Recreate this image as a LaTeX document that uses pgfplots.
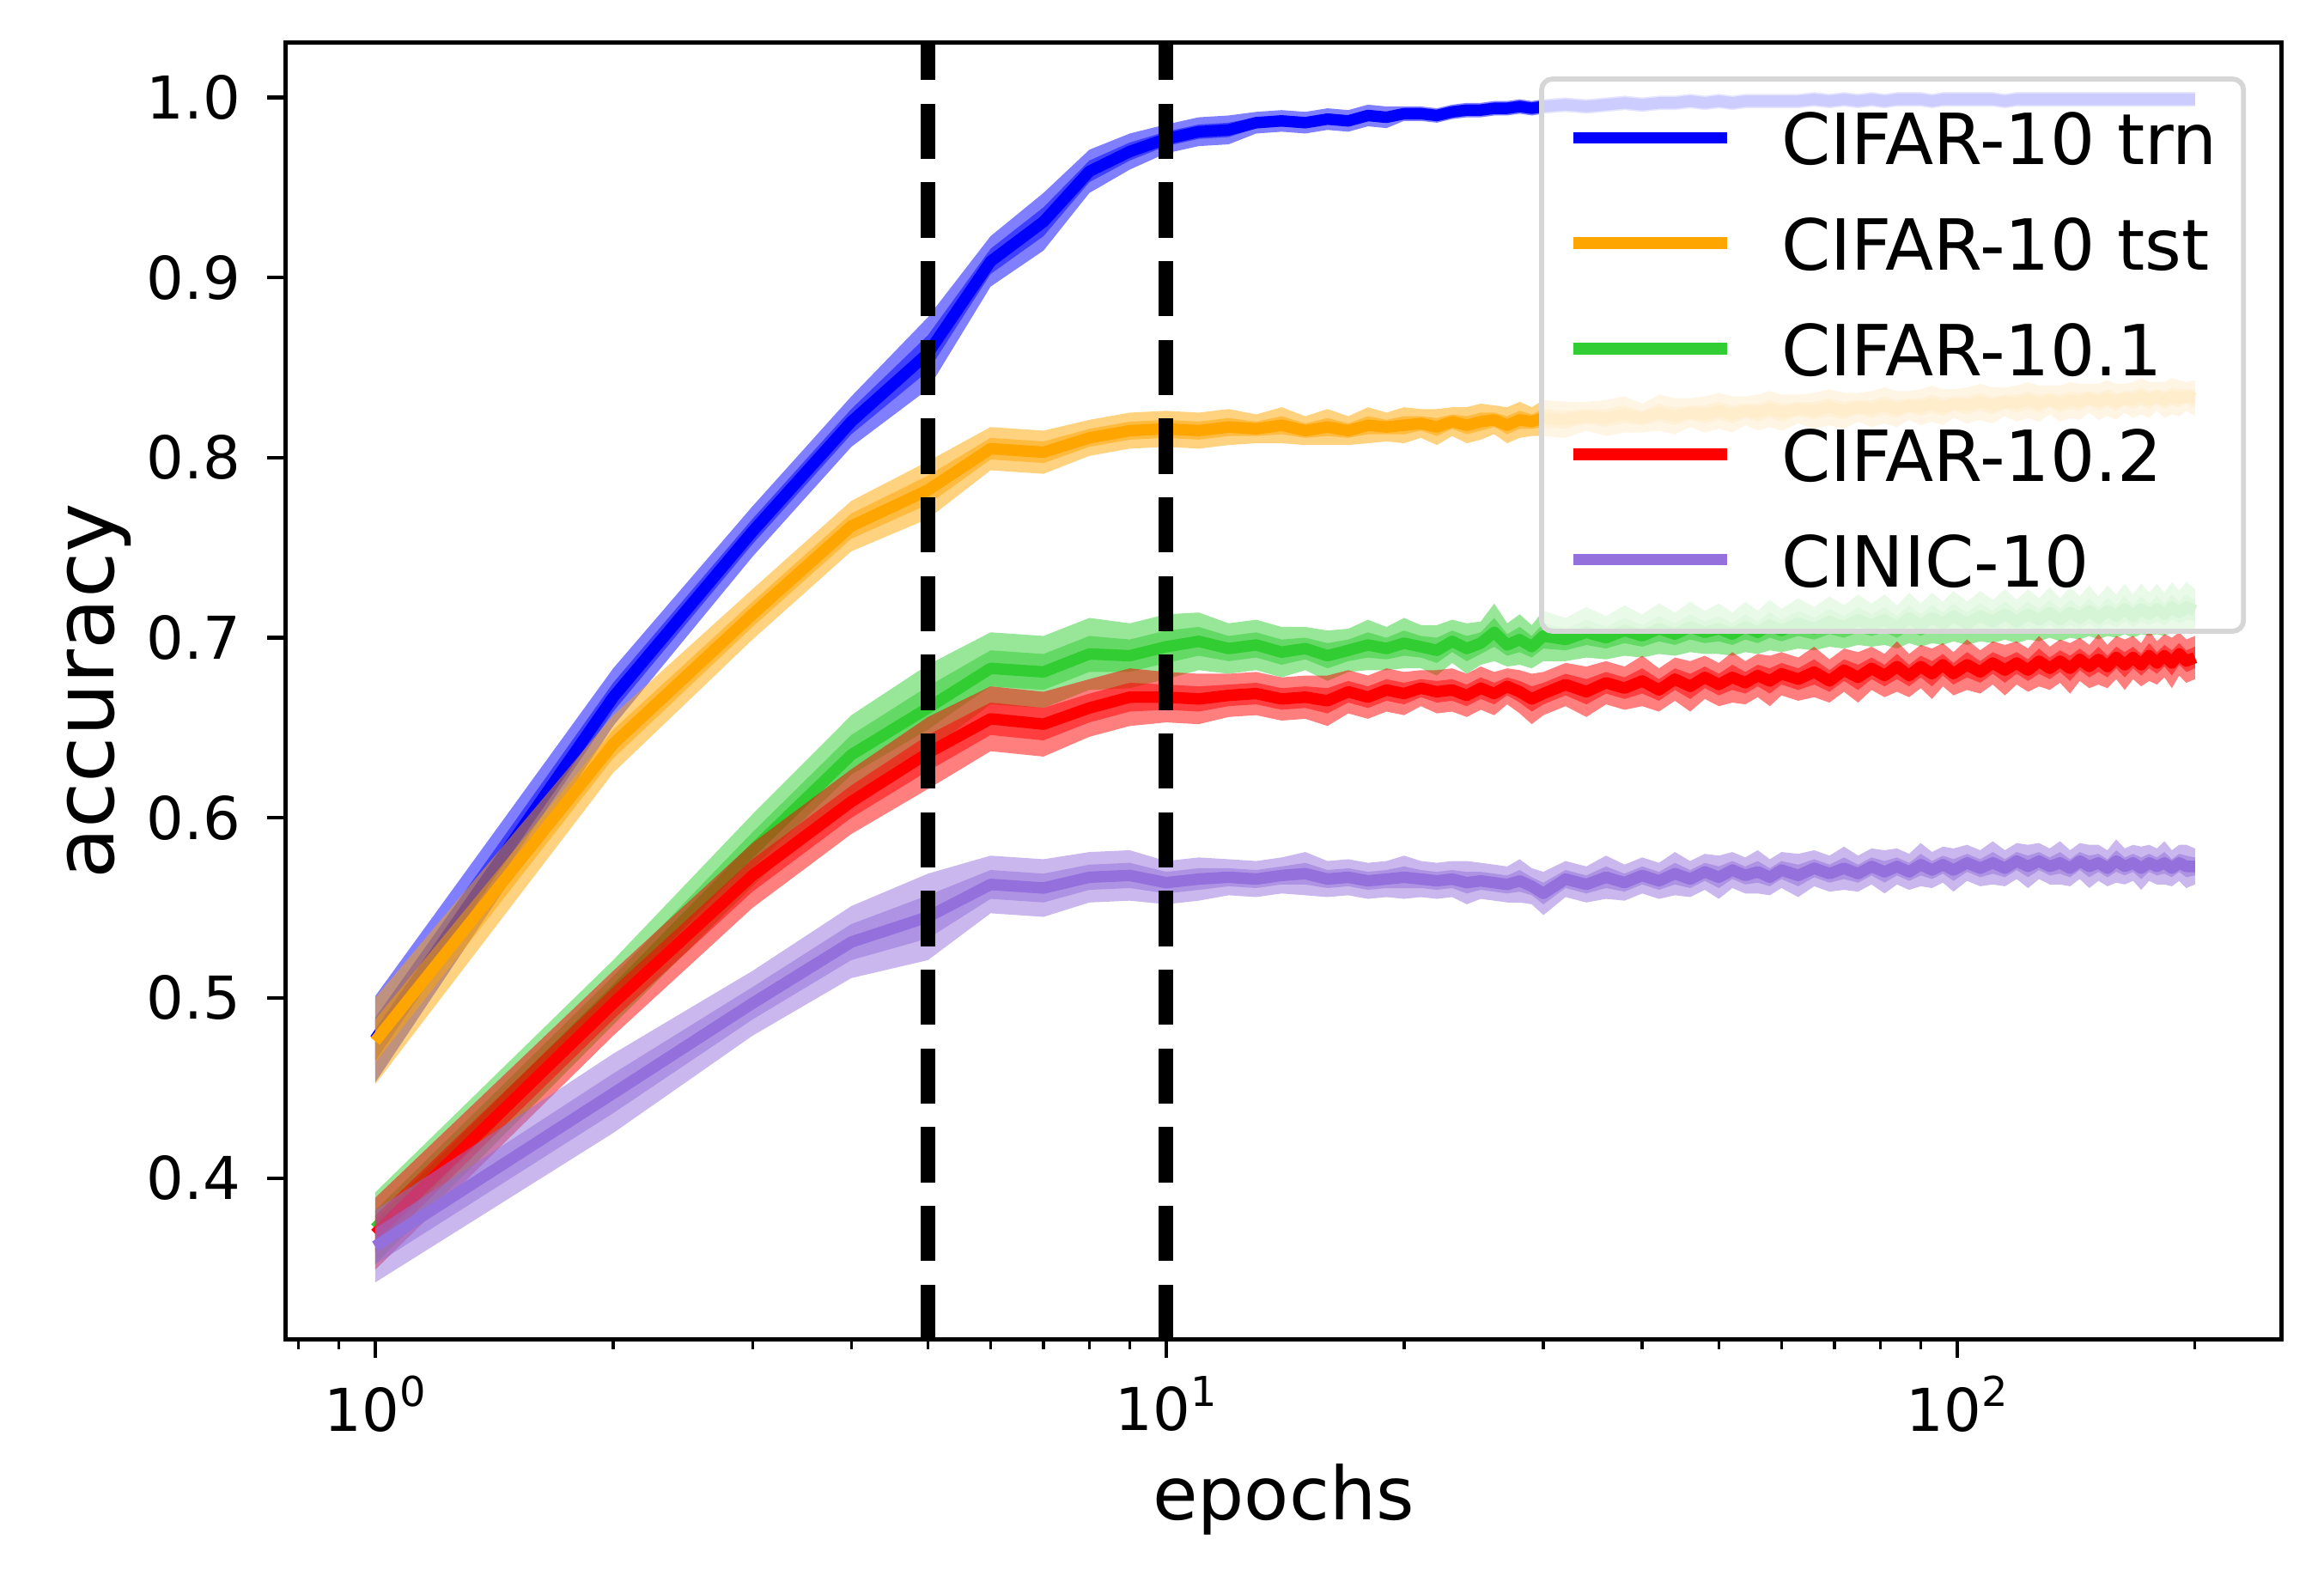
\documentclass[border=0pt]{standalone}
\usepackage{fontspec}
\setmainfont{DejaVu Sans}
\usepackage{pgfplots}
\usepackage{pgfplotstable}
\pgfplotsset{compat=1.18}

\definecolor{cblue}{RGB}{0,0,255}
\definecolor{corange}{RGB}{255,165,0}
\definecolor{cgreen}{RGB}{50,205,50}
\definecolor{cred}{RGB}{255,0,0}
\definecolor{cpurple}{RGB}{147,112,219}

\pgfplotstableread{
x b bs o os g gs r rs p ps
1 0.477 0.012 0.476 0.012 0.372 0.010 0.369 0.010 0.362 0.010
2 0.667 0.008 0.641 0.008 0.503 0.009 0.497 0.009 0.447 0.011
3 0.759 0.007 0.713 0.007 0.582 0.010 0.568 0.009 0.497 0.009
4 0.820 0.007 0.762 0.007 0.635 0.011 0.609 0.009 0.531 0.010
5 0.858 0.010 0.782 0.008 0.661 0.012 0.636 0.010 0.545 0.012
6 0.909 0.007 0.805 0.006 0.683 0.010 0.655 0.009 0.563 0.008
7 0.931 0.008 0.803 0.006 0.681 0.010 0.652 0.009 0.561 0.008
8 0.959 0.006 0.811 0.005 0.691 0.010 0.661 0.008 0.567 0.007
9 0.970 0.005 0.815 0.005 0.690 0.009 0.667 0.008 0.568 0.007
10 0.977 0.004 0.816 0.005 0.695 0.009 0.667 0.007 0.564 0.006
11 0.981 0.004 0.815 0.005 0.698 0.008 0.666 0.007 0.566 0.006
12 0.982 0.004 0.817 0.005 0.694 0.007 0.668 0.006 0.567 0.005
13 0.986 0.003 0.816 0.004 0.696 0.007 0.669 0.006 0.566 0.005
14 0.987 0.003 0.818 0.005 0.692 0.007 0.666 0.006 0.568 0.005
15 0.986 0.003 0.815 0.004 0.694 0.006 0.667 0.006 0.569 0.006
16 0.988 0.003 0.817 0.005 0.690 0.007 0.665 0.007 0.566 0.005
17 0.987 0.003 0.815 0.004 0.693 0.006 0.670 0.006 0.567 0.005
18 0.990 0.003 0.818 0.005 0.696 0.007 0.667 0.006 0.565 0.005
19 0.989 0.003 0.817 0.004 0.694 0.006 0.671 0.006 0.566 0.005
20 0.991 0.002 0.818 0.005 0.697 0.007 0.669 0.006 0.567 0.006
21 0.991 0.002 0.819 0.004 0.695 0.006 0.672 0.005 0.566 0.005
22 0.990 0.002 0.817 0.005 0.693 0.007 0.670 0.006 0.565 0.005
23 0.992 0.002 0.820 0.004 0.698 0.006 0.671 0.006 0.566 0.005
24 0.993 0.002 0.818 0.005 0.694 0.007 0.668 0.006 0.564 0.006
25 0.993 0.002 0.820 0.005 0.697 0.006 0.672 0.006 0.565 0.005
26 0.994 0.002 0.821 0.004 0.703 0.008 0.669 0.006 0.564 0.005
27 0.994 0.002 0.818 0.005 0.696 0.006 0.673 0.005 0.563 0.005
28 0.995 0.002 0.821 0.005 0.699 0.007 0.670 0.006 0.565 0.006
29 0.994 0.002 0.820 0.004 0.695 0.006 0.666 0.007 0.562 0.005
30 0.995 0.002 0.822 0.005 0.701 0.007 0.669 0.006 0.558 0.006
32 0.996 0.002 0.821 0.005 0.699 0.006 0.674 0.006 0.566 0.005
34 0.995 0.002 0.823 0.004 0.703 0.007 0.670 0.007 0.563 0.005
36 0.996 0.002 0.822 0.005 0.700 0.006 0.675 0.006 0.567 0.006
38 0.997 0.002 0.824 0.005 0.704 0.007 0.672 0.006 0.564 0.005
40 0.996 0.002 0.822 0.004 0.701 0.006 0.676 0.007 0.568 0.005
42 0.997 0.002 0.825 0.005 0.705 0.007 0.671 0.006 0.565 0.005
44 0.997 0.002 0.823 0.005 0.702 0.006 0.677 0.006 0.569 0.006
46 0.998 0.002 0.825 0.004 0.706 0.007 0.673 0.007 0.566 0.005
48 0.997 0.002 0.824 0.005 0.703 0.006 0.678 0.006 0.570 0.005
50 0.998 0.002 0.826 0.005 0.705 0.007 0.674 0.006 0.567 0.006
52 0.997 0.002 0.824 0.005 0.702 0.006 0.678 0.007 0.571 0.005
54 0.998 0.002 0.826 0.004 0.706 0.007 0.675 0.006 0.568 0.005
56 0.998 0.002 0.825 0.005 0.703 0.006 0.679 0.006 0.570 0.006
58 0.998 0.002 0.827 0.005 0.707 0.007 0.676 0.007 0.567 0.005
60 0.998 0.002 0.825 0.005 0.704 0.006 0.680 0.006 0.571 0.005
63 0.998 0.002 0.827 0.004 0.708 0.007 0.677 0.006 0.568 0.006
66 0.999 0.002 0.826 0.005 0.705 0.006 0.681 0.007 0.572 0.005
69 0.998 0.002 0.828 0.005 0.709 0.007 0.676 0.006 0.569 0.005
72 0.999 0.002 0.826 0.005 0.706 0.006 0.682 0.006 0.572 0.006
75 0.998 0.002 0.828 0.004 0.710 0.007 0.678 0.007 0.569 0.005
78 0.999 0.002 0.827 0.005 0.707 0.006 0.683 0.006 0.573 0.005
81 0.998 0.002 0.829 0.005 0.710 0.007 0.679 0.006 0.570 0.006
84 0.999 0.002 0.827 0.005 0.706 0.006 0.684 0.007 0.573 0.005
87 0.999 0.002 0.829 0.004 0.711 0.007 0.679 0.006 0.570 0.005
90 0.999 0.002 0.828 0.005 0.707 0.006 0.684 0.006 0.574 0.006
93 0.998 0.002 0.830 0.005 0.711 0.007 0.680 0.007 0.571 0.005
96 0.999 0.002 0.828 0.005 0.708 0.006 0.685 0.006 0.574 0.005
99 0.999 0.002 0.830 0.004 0.712 0.007 0.680 0.006 0.571 0.006
103 0.999 0.002 0.829 0.005 0.708 0.006 0.685 0.007 0.575 0.005
107 0.999 0.002 0.831 0.005 0.712 0.007 0.681 0.006 0.572 0.005
111 0.999 0.002 0.829 0.005 0.709 0.006 0.686 0.006 0.575 0.006
115 0.998 0.002 0.831 0.004 0.713 0.007 0.682 0.007 0.572 0.005
119 0.999 0.002 0.830 0.005 0.709 0.006 0.686 0.006 0.576 0.005
123 0.999 0.002 0.832 0.005 0.713 0.007 0.682 0.006 0.573 0.006
127 0.999 0.002 0.830 0.005 0.710 0.006 0.687 0.007 0.576 0.005
131 0.999 0.002 0.832 0.004 0.714 0.007 0.683 0.006 0.573 0.005
135 0.999 0.002 0.830 0.005 0.710 0.006 0.687 0.006 0.575 0.006
139 0.999 0.002 0.832 0.005 0.714 0.007 0.683 0.007 0.572 0.005
143 0.999 0.002 0.831 0.005 0.711 0.006 0.688 0.006 0.576 0.005
147 0.999 0.002 0.833 0.004 0.715 0.007 0.684 0.006 0.573 0.006
151 0.999 0.002 0.831 0.005 0.711 0.006 0.688 0.007 0.575 0.005
155 0.999 0.002 0.833 0.005 0.715 0.007 0.684 0.006 0.572 0.005
159 0.999 0.002 0.831 0.005 0.712 0.006 0.689 0.006 0.576 0.006
163 0.999 0.002 0.833 0.004 0.716 0.007 0.685 0.007 0.573 0.005
167 0.999 0.002 0.832 0.005 0.712 0.006 0.689 0.006 0.575 0.005
171 0.999 0.002 0.834 0.005 0.716 0.007 0.685 0.006 0.572 0.006
175 0.999 0.002 0.832 0.005 0.713 0.006 0.690 0.007 0.575 0.005
179 0.999 0.002 0.834 0.004 0.716 0.007 0.686 0.006 0.573 0.005
183 0.999 0.002 0.832 0.005 0.713 0.006 0.690 0.006 0.575 0.006
187 0.999 0.002 0.834 0.005 0.717 0.007 0.686 0.007 0.572 0.005
191 0.999 0.002 0.833 0.005 0.714 0.006 0.691 0.006 0.575 0.005
195 0.999 0.002 0.834 0.004 0.717 0.007 0.687 0.006 0.573 0.006
200 0.999 0.002 0.833 0.005 0.715 0.006 0.689 0.006 0.573 0.005
}\data

% band between mean-k*s and mean+k*s, via stacked plots (stack returns to zero after each band)
\newcommand{\bandk}[4]{%
  \addplot[stack plots=y, draw=none, forget plot] table[x=x, y expr=\thisrow{#2}-#4*\thisrow{#3}]{\data};
  \addplot[stack plots=y, fill=#1, fill opacity=0.5, draw=none, forget plot] table[x=x, y expr=2*#4*\thisrow{#3}]{\data} \closedcycle;
  \addplot[stack plots=y, draw=none, forget plot] table[x=x, y expr=-\thisrow{#2}-#4*\thisrow{#3}]{\data};
}
\newcommand{\band}[3]{\bandk{#1}{#2}{#3}{2}\bandk{#1}{#2}{#3}{1}}
\newcommand{\tenpow}[1]{10\raisebox{6.8pt}{\fontsize{11.5}{12}\selectfont #1}}

\begin{document}
\begin{tikzpicture}
\begin{axis}[
  scale only axis, width=558pt, height=362.4pt,
  xmode=log, log basis x=10,
  xmin=0.7695, xmax=257.5, ymin=0.3102, ymax=1.0303,
  axis line style={line width=1.2pt, black},
  tick align=outside, tick pos=left,
  major tick length=5.1pt, minor tick length=2.7pt,
  tick style={line width=1pt, black},
  minor tick style={line width=0.8pt, black},
  xtick={1,10,100},
  xticklabels={\tenpow{0},\tenpow{1},\tenpow{2}},
  minor xtick={0.8,0.9,2,3,4,5,6,7,8,9,20,30,40,50,60,70,80,90,200},
  ytick={0.4,0.5,0.6,0.7,0.8,0.9,1.0},
  yticklabel style={/pgf/number format/fixed, /pgf/number format/fixed zerofill, /pgf/number format/precision=1, /pgf/number format/assume math mode=true, font=\fontsize{16.5}{18}\selectfont, anchor=east, inner sep=0pt, xshift=-7.2pt},
  xticklabel style={font=\fontsize{16.5}{18}\selectfont, anchor=north, inner sep=0pt, yshift=-4.9pt},
  xlabel={epochs}, ylabel={accuracy},
  xlabel style={at={([yshift=-50.2pt]axis description cs:0.5,0)}, anchor=base, inner sep=0pt, font=\fontsize{20.5}{24}\selectfont},
  ylabel style={at={([xshift=-48pt]axis description cs:0,0.5)}, anchor=base, inner sep=0pt, rotate=0, font=\fontsize{23.3}{27}\selectfont},
  legend cell align=left,
  legend style={at={(1,1)}, anchor=north east, xshift=-10pt, yshift=-9.4pt,
    font=\fontsize{19.7}{23}\selectfont, draw=black!16, line width=1.4pt,
    rounded corners=3pt, fill=white, fill opacity=0.8, text opacity=1, draw opacity=1,
    inner xsep=7.3pt, inner ysep=3.4pt, row sep=0pt, column sep=13.5pt,
    nodes={inner sep=0pt, text height=20.5pt, text depth=9pt}},
  legend image code/.code={\draw[#1, line width=3.2pt, line cap=butt, sharp corners] (0pt,1.8pt) -- (43pt,1.8pt);},
]
\band{cblue}{b}{bs}
\addplot[cblue, line width=3.2pt, line join=round] table[x=x, y=b]{\data};
\addlegendentry{CIFAR-10 trn}
\band{corange}{o}{os}
\addplot[corange, line width=3.2pt, line join=round] table[x=x, y=o]{\data};
\addlegendentry{CIFAR-10 tst}
\band{cgreen}{g}{gs}
\addplot[cgreen, line width=3.2pt, line join=round] table[x=x, y=g]{\data};
\addlegendentry{CIFAR-10.1}
\band{cred}{r}{rs}
\addplot[cred, line width=3.2pt, line join=round] table[x=x, y=r]{\data};
\addlegendentry{CIFAR-10.2}
\band{cpurple}{p}{ps}
\addplot[cpurple, line width=3.2pt, line join=round] table[x=x, y=p]{\data};
\addlegendentry{CINIC-10}
\addplot[black, line width=4.1pt, dash pattern=on 15.4pt off 6.6pt, forget plot] coordinates {(5,0.3102) (5,1.0303)};
\addplot[black, line width=4.1pt, dash pattern=on 15.4pt off 6.6pt, forget plot] coordinates {(10,0.3102) (10,1.0303)};
\end{axis}
\pgfresetboundingbox
\path[use as bounding box] ([xshift=-79.7pt, yshift=-66pt]current axis.south west) rectangle ([xshift=11.8pt, yshift=12pt]current axis.north east);
\end{tikzpicture}
\end{document}
